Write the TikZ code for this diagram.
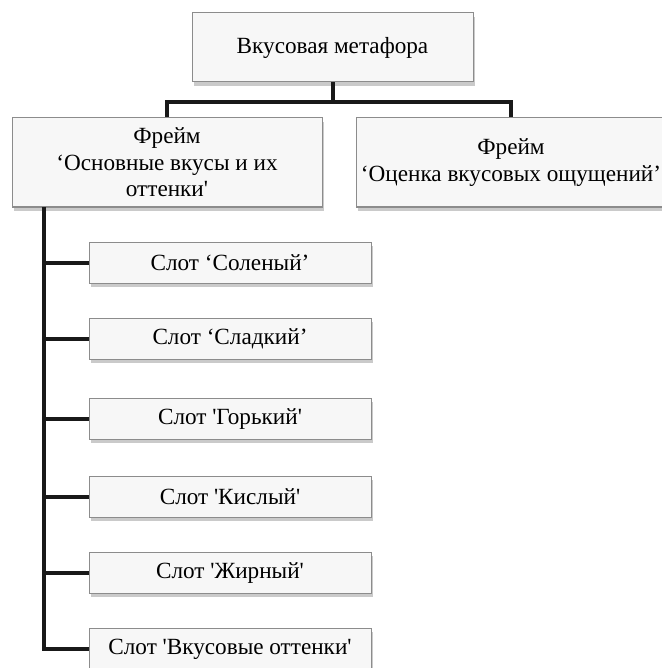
\documentclass[tikz,border=0pt]{standalone}
\usepackage{fontspec}
\setmainfont{Liberation Serif}[Ligatures=TeXOff]
\usetikzlibrary{shadows}

\begin{document}
\begin{tikzpicture}[x=0.5pt,y=-0.5pt,
    box/.style={draw=black!45,line width=0.5pt,fill=black!3,align=center,
      font=\fontsize{11.6}{13.2}\selectfont,inner sep=2pt,
      drop shadow={shadow xshift=1.2pt,shadow yshift=-1.8pt,fill=black!35,opacity=.6}},
    topbox/.style={box,minimum width=140.5pt,minimum height=34.5pt},
    framebox/.style={box,minimum width=155pt,minimum height=44.5pt},
    slotbox/.style={box,minimum width=141pt,minimum height=20.5pt},
    conn/.style={line width=2pt,black!90}]
  \useasboundingbox (0,0) rectangle (661,668);
  \node[topbox] (top) at (332.5,47.5) {Вкусовая метафора};
  \node[framebox] (f1) at (167,162.5) {Фрейм\\‘Основные вкусы и их\\оттенки'};
  \node[framebox] (f2) at (511,162.5) {Фрейм\\‘Оценка вкусовых ощущений’};
  \node[slotbox] (s1) at (230,263) {Слот ‘Соленый’};
  \node[slotbox] (s2) at (230,339) {Слот ‘Сладкий’};
  \node[slotbox] (s3) at (230,419) {Слот 'Горький'};
  \node[slotbox] (s4) at (230,497) {Слот 'Кислый'};
  \node[slotbox] (s5) at (230,573) {Слот 'Жирный'};
  \node[slotbox] (s6) at (230,649) {Слот 'Вкусовые оттенки'};
  \coordinate (bar) at (0,102);
  \coordinate (spine) at (44,207);
  \draw[conn] (top.south) -- (top.south |- bar) -| (f1.north);
  \draw[conn] (top.south |- bar) -| (f2.north);
  \draw[conn] (spine) |- (s6.west);
  \foreach \s in {s1,s2,s3,s4,s5}
    \draw[conn] (spine |- \s.west) -- (\s.west);
\end{tikzpicture}
\end{document}
